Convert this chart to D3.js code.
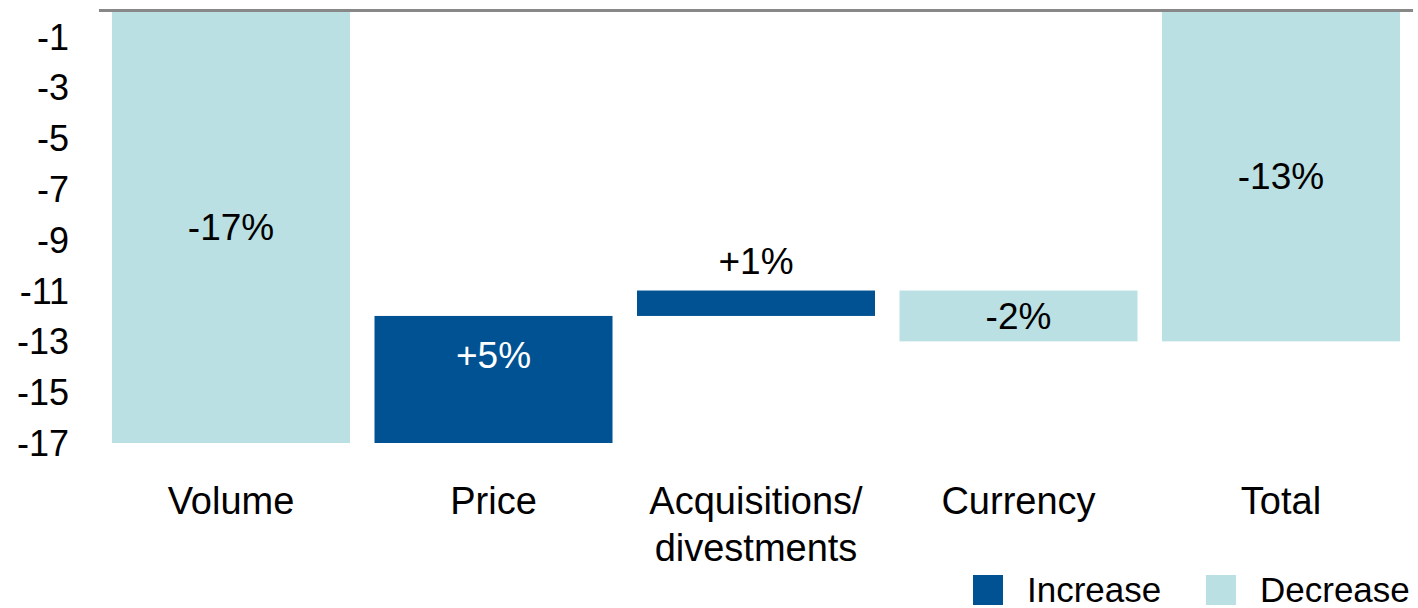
<!DOCTYPE html>
<html>
<head>
<meta charset="utf-8">
<script src="https://cdn.jsdelivr.net/npm/d3@7"></script>
<style>
  html, body { margin: 0; padding: 0; background: #fff; }
  svg { display: block; font-family: "Liberation Sans", Arial, sans-serif; }
</style>
</head>
<body>
<svg id="chart" width="1418" height="608"></svg>
<script>
// ---- data ----
const categories = ["Volume", "Price", "Acquisitions/\ndivestments", "Currency", "Total"];
const barStart   = [0, -17, -12, -11, 0];     // where each bar begins
const barEnd     = [-17, -12, -11, -13, -13]; // where each bar ends
const barType    = ["Decrease", "Increase", "Increase", "Decrease", "Decrease"];
const barLabels  = ["-17%", "+5%", "+1%", "-2%", "-13%"];
const yTicks     = [-1, -3, -5, -7, -9, -11, -13, -15, -17];
const legendItems = ["Increase", "Decrease"];

// ---- styles ----
const colors = { Increase: "#005293", Decrease: "#bbe0e3" };
const labelColor = { Increase: "#ffffff", Decrease: "#000000" };

const svg = d3.select("#chart");

const x = d3.scaleBand()
  .domain(categories)
  .range([99.75, 1412.25])
  .paddingInner(0.0933)
  .paddingOuter(0.0467);

const y = d3.scaleLinear().domain([0, -17]).range([11, 443]);

// bars
const data = categories.map((c, i) => ({
  c, s: barStart[i], e: barEnd[i], t: barType[i], l: barLabels[i]
}));

svg.append("g").selectAll("rect").data(data).join("rect")
  .attr("x", d => x(d.c))
  .attr("width", x.bandwidth())
  .attr("y", d => y(Math.max(d.s, d.e)))
  .attr("height", d => Math.abs(y(d.s) - y(d.e)))
  .attr("fill", d => colors[d.t]);

// zero line at top
svg.append("line")
  .attr("x1", 99).attr("x2", 1413)
  .attr("y1", y(0) - 0.5).attr("y2", y(0) - 0.5)
  .attr("stroke", "#888888").attr("stroke-width", 3);

// y axis labels
const yAxis = d3.axisLeft(y).tickValues(yTicks).tickSize(0).tickPadding(0)
  .tickFormat(d3.format("d"));
const gy = svg.append("g").attr("transform", "translate(69,0)").call(yAxis);
gy.select(".domain").remove();
gy.selectAll("text")
  .attr("font-family", "Liberation Sans, Arial, sans-serif")
  .attr("font-size", 36).attr("fill", "#000").attr("dy", "0.35em")
  .text(d => d3.format("d")(d).replace("\u2212", "-"));

// value labels
svg.append("g").selectAll("text").data(data).join("text")
  .attr("x", d => x(d.c) + x.bandwidth() / 2)
  .attr("y", d => {
    const top = y(Math.max(d.s, d.e)), bot = y(Math.min(d.s, d.e));
    if (Math.abs(d.e - d.s) < 1.5) return top - 17;     // small bar: label above
    if (d.t === "Increase") return top + 39 + 13;       // increase: near top
    return (top + bot) / 2 + 13;                        // centered
  })
  .attr("text-anchor", "middle")
  .attr("font-size", 37)
  .attr("fill", d => Math.abs(d.e - d.s) < 1.5 ? "#000" : labelColor[d.t])
  .text(d => d.l);

// category labels
const catG = svg.append("g");
data.forEach(d => {
  const lines = d.c.split("\n");
  const t = catG.append("text")
    .attr("x", x(d.c) + x.bandwidth() / 2)
    .attr("y", 514)
    .attr("text-anchor", "middle")
    .attr("font-size", 38)
    .attr("fill", "#000");
  lines.forEach((ln, i) => {
    t.append("tspan")
      .attr("x", x(d.c) + x.bandwidth() / 2)
      .attr("dy", i === 0 ? 0 : 47)
      .text(ln);
  });
});

// legend
const legendX = [973, 1206];
const lg = svg.append("g");
legendItems.forEach((k, i) => {
  lg.append("rect").attr("x", legendX[i]).attr("y", 575)
    .attr("width", 30).attr("height", 30).attr("fill", colors[k]);
  lg.append("text").attr("x", legendX[i] + 54).attr("y", 602)
    .attr("font-size", 35).attr("fill", "#000").text(k);
});
</script>
</body>
</html>
